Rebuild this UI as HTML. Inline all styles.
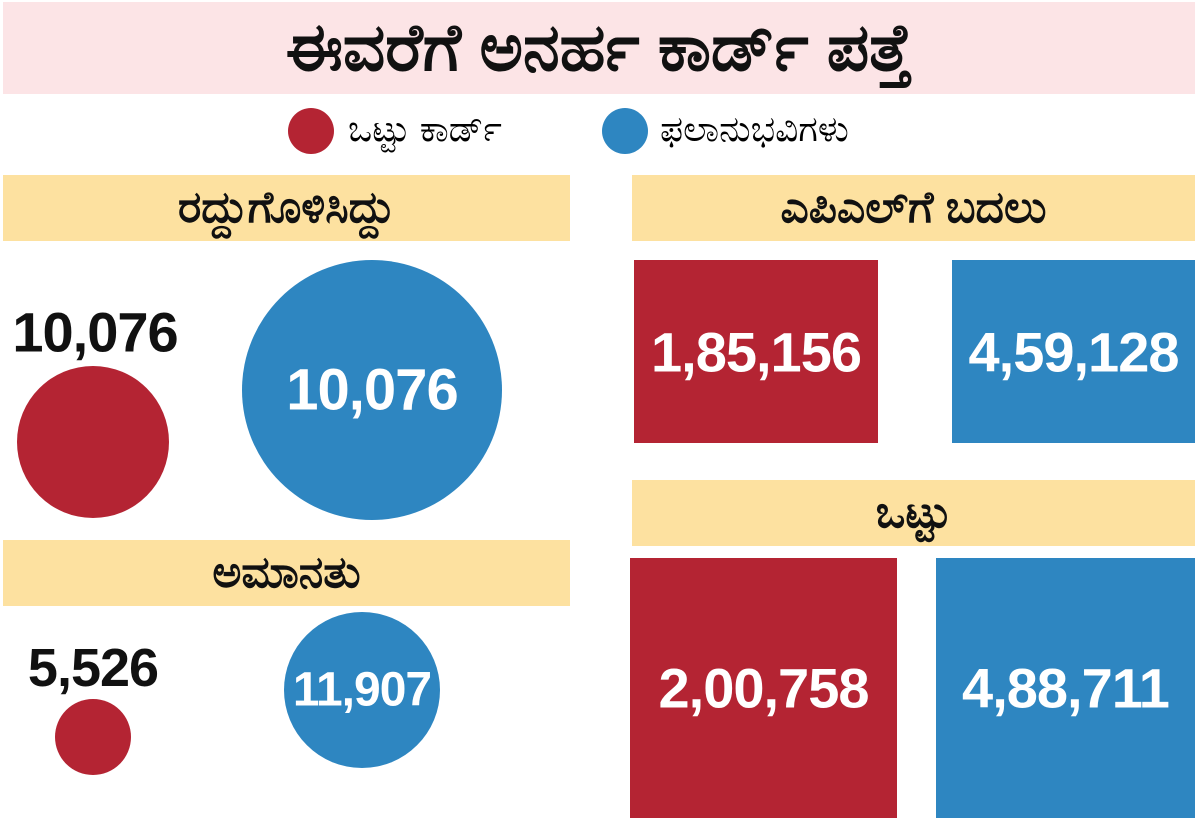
<!DOCTYPE html>
<html><head><meta charset="utf-8"><style>
body{margin:0;width:1200px;height:821px;background:#fff;position:relative;overflow:hidden;font-family:"Liberation Sans","DejaVu Sans",sans-serif}
.abs{position:absolute}
.bar{position:absolute;display:flex;align-items:center;justify-content:center;font-size:44px;color:#111;font-weight:bold}
.num{position:absolute;font-weight:bold;text-align:center;transform:translate(-50%,-50%);white-space:nowrap;letter-spacing:-1px}
</style></head><body>
<div class="bar" style="left:3px;top:2px;width:1192px;height:92px;background:#fce4e6;font-size:66px">ಈವರೆಗೆ ಅನರ್ಹ ಕಾರ್ಡ್ ಪತ್ತೆ</div>
<div class="abs" style="left:288px;top:108px;width:46px;height:46px;border-radius:50%;background:#b42433"></div>
<div class="abs" style="left:348px;top:108px;font-size:36px">ಒಟ್ಟು ಕಾರ್ಡ್</div>
<div class="abs" style="left:602px;top:108px;width:46px;height:46px;border-radius:50%;background:#2e86c1"></div>
<div class="abs" style="left:660px;top:108px;font-size:36px">ಫಲಾನುಭವಿಗಳು</div>
<div class="bar" style="left:3px;top:175px;width:567px;height:66px;background:#fde1a0">ರದ್ದುಗೊಳಿಸಿದ್ದು</div>
<div class="bar" style="left:632px;top:175px;width:563px;height:66px;background:#fde1a0">ಎಪಿಎಲ್‌ಗೆ ಬದಲು</div>
<div class="bar" style="left:3px;top:540px;width:567px;height:66px;background:#fde1a0">ಅಮಾನತು</div>
<div class="bar" style="left:632px;top:480px;width:563px;height:66px;background:#fde1a0">ಒಟ್ಟು</div>
<div id="marks"></div>
<script>
const cards=[10076,5526,185156,200758];
const beneficiaries=[10076,11907,459128,488711];
const fmt=v=>v.toLocaleString('en-IN');
const m=document.getElementById('marks');
function add(html){const d=document.createElement('div');d.innerHTML=html;const e=d.firstElementChild;m.appendChild(e);return e;}
const circ=[[93,442,76,'#b42433',cards[0],'out',95,332,'cancelled-cards',56],[372,390,130,'#2e86c1',beneficiaries[0],'in',0,0,'cancelled-beneficiaries',58],[93,737,38,'#b42433',cards[1],'out',93,668,'suspended-cards',54],[362,690,78,'#2e86c1',beneficiaries[1],'in',0,0,'suspended-beneficiaries',48]];
circ.forEach(c=>{
 const e=add(`<div class="abs" style="left:${c[0]-c[2]}px;top:${c[1]-c[2]}px;width:${2*c[2]}px;height:${2*c[2]}px;border-radius:50%;background:${c[3]}"></div>`);
 
 
 const t=add(`<div class="num" style="left:${c[5]=='in'?c[0]:c[6]}px;top:${c[5]=='in'?c[1]:c[7]}px;font-size:${c[9]}px;color:${c[5]=='in'?'#fff':'#111'}">${fmt(c[4])}</div>`);
 
 
});
const rects=[[634,260,244,183,'#b42433',cards[2],'apl-cards'],[952,260,243,183,'#2e86c1',beneficiaries[2],'apl-beneficiaries'],[630,558,267,260,'#b42433',cards[3],'total-cards'],[936,558,259,260,'#2e86c1',beneficiaries[3],'total-beneficiaries']];
rects.forEach(r=>{
 const e=add(`<div class="abs" style="left:${r[0]}px;top:${r[1]}px;width:${r[2]}px;height:${r[3]}px;background:${r[4]}"></div>`);
 
 
 const t=add(`<div class="num" style="left:${r[0]+r[2]/2}px;top:${r[1]+r[3]/2}px;font-size:56px;color:#fff">${fmt(r[5])}</div>`);
 
 
});
</script>
</body></html>
